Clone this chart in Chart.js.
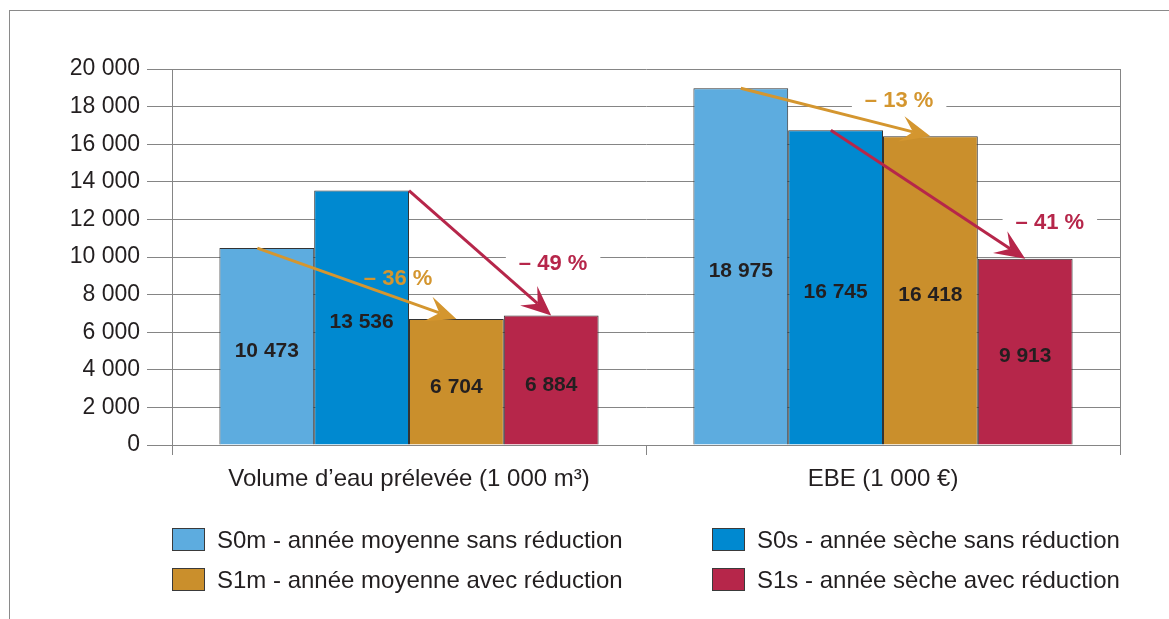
<!DOCTYPE html>
<html>
<head>
<meta charset="utf-8">
<script src="https://cdn.jsdelivr.net/npm/chart.js@4"></script>
<style>
  html, body { margin: 0; padding: 0; background: #fff; }
  #wrap { position: relative; width: 1169px; height: 619px; overflow: hidden; }
  #frame { position: absolute; left: 9px; top: 10px; right: -2px; bottom: -2px;
           border-top: 1px solid #8a8a8a; border-left: 1px solid #8a8a8a; }
  canvas { position: absolute; left: 0; top: 0; }
  #legend { position: absolute; left: 172px; top: 528px; display: grid;
            grid-template-columns: 540px 420px; row-gap: 17px;
            font-family: "Liberation Sans", Arial, sans-serif; font-size: 24px; color: #231F20; }
  .item { display: flex; align-items: center; height: 23px; }
  .box { width: 31px; height: 21px; border: 1px solid #3a3a3a; margin-right: 12px; }
</style>
</head>
<body>
<div id="wrap">
  <div id="frame"></div>
  <canvas id="chart" width="1169" height="619"></canvas>
  <div id="legend"></div>
</div>
<script>
// Categories and values
const categories = ['Volume d\u2019eau prélevée (1 000 m\u00b3)', 'EBE (1 000 \u20ac)'];
const seriesNames = [
    'S0m - année moyenne sans réduction',
    'S0s - année sèche sans réduction',
    'S1m - année moyenne avec réduction',
    'S1s - année sèche avec réduction'
];
const s0m = [10473, 18975];
const s0s = [13536, 16745];
const s1m = [6704, 16418];
const s1s = [6884, 9913];
const changeLabels = ['\u2013 36 %', '\u2013 49 %', '\u2013 13 %', '\u2013 41 %'];

const colors = ['#5DACDF', '#0089D0', '#CA8F2C', '#B6264A'];
const orange = '#D4962F';
const red = '#B6264A';
const gridColor = '#858585';
const textColor = '#231F20';
const fontFamily = '"Liberation Sans", Arial, sans-serif';

// arrows: from one bar top to another within a category
const arrows = [
    { cat: 0, from: 0, to: 2, shift: -0.1, color: orange },
    { cat: 0, from: 1, to: 3, shift: 0.5, color: red },
    { cat: 1, from: 0, to: 2, shift: 0, color: orange },
    { cat: 1, from: 1, to: 3, shift: -0.05, color: red }
];
// where the percentage labels sit (category offset as fraction of category width, y in data units)
const changeSpots = [
    { cat: 0, dx: -0.023, y: 8900, color: orange },
    { cat: 0, dx: 0.304, y: 9700, color: red },
    { cat: 1, dx: 0.034, y: 18350, color: orange },
    { cat: 1, dx: 0.352, y: 11850, color: red }
];

function fmt(v) {
    return String(v).replace(/\B(?=(\d{3})+(?!\d))/g, ' ');
}

function spotXY(chart, s) {
    const x = chart.scales.x;
    const catW = (x.right - x.left) / categories.length;
    return { x: x.getPixelForValue(s.cat) + s.dx * catW, y: chart.scales.y.getPixelForValue(s.y) };
}

const annotations = {
    id: 'annotations',
    beforeDatasetsDraw(chart) {
        const ctx = chart.ctx;
        ctx.save();
        ctx.font = 'bold 22px ' + fontFamily;
        changeSpots.forEach((s, i) => {
            const p = spotXY(chart, s);
            const w = ctx.measureText(changeLabels[i]).width + 26;
            ctx.fillStyle = '#fff';
            ctx.fillRect(p.x - w / 2, p.y - 13, w, 26);
        });
        ctx.restore();
    },
    afterDatasetsDraw(chart) {
        const ctx = chart.ctx;
        ctx.save();
        // values inside bars
        ctx.font = 'bold 21px ' + fontFamily;
        ctx.fillStyle = textColor;
        ctx.textAlign = 'center';
        ctx.textBaseline = 'middle';
        chart.data.datasets.forEach((ds, di) => {
            chart.getDatasetMeta(di).data.forEach((bar, i) => {
                ctx.fillText(fmt(ds.data[i]), bar.x, (bar.y + bar.base) / 2 + 5);
            });
        });
        // arrows
        arrows.forEach(a => {
            const b0 = chart.getDatasetMeta(a.from).data[a.cat];
            const b1 = chart.getDatasetMeta(a.to).data[a.cat];
            const x0 = b0.x + a.shift * b0.width, y0 = b0.y;
            const x1 = b1.x, y1 = b1.y;
            const ang = Math.atan2(y1 - y0, x1 - x0);
            const len = 30, half = 13, notch = 18;
            ctx.strokeStyle = a.color;
            ctx.fillStyle = a.color;
            ctx.lineWidth = 3;
            ctx.beginPath();
            ctx.moveTo(x0, y0);
            ctx.lineTo(x1 - Math.cos(ang) * notch, y1 - Math.sin(ang) * notch);
            ctx.stroke();
            ctx.translate(x1, y1);
            ctx.rotate(ang);
            ctx.beginPath();
            ctx.moveTo(0, 0);
            ctx.lineTo(-len, -half);
            ctx.lineTo(-notch, 0);
            ctx.lineTo(-len, half);
            ctx.closePath();
            ctx.fill();
            ctx.setTransform(1, 0, 0, 1, 0, 0);
        });
        // percentage labels
        ctx.font = 'bold 22px ' + fontFamily;
        changeSpots.forEach((s, i) => {
            const p = spotXY(chart, s);
            ctx.fillStyle = s.color;
            ctx.fillText(changeLabels[i], p.x, p.y + 1);
        });
        ctx.restore();
    }
};

const chart = new Chart(document.getElementById('chart'), {
    type: 'bar',
    data: {
        labels: categories,
        datasets: [s0m, s0s, s1m, s1s].map((d, i) => ({
            label: seriesNames[i],
            data: d,
            backgroundColor: colors[i],
            borderColor: '#333333',
            borderWidth: 1,
            categoryPercentage: 0.8,
            barPercentage: 1.0
        }))
    },
    options: {
        responsive: false,
        animation: false,
        layout: { padding: { left: 0, right: 49, top: 69, bottom: 0 } },
        plugins: { legend: { display: false }, tooltip: { enabled: false } },
        scales: {
            x: {
                afterFit: s => { s.height = 174; },
                ticks: { color: textColor, padding: 10, font: { family: fontFamily, size: 24 } },
                grid: {
                    offset: true,
                    color: c => c.index === 1 ? 'rgba(0,0,0,0)' : gridColor,
                    tickColor: gridColor,
                    tickLength: 10
                },
                border: { display: false }
            },
            y: {
                min: 0,
                max: 20000,
                afterFit: s => { s.width = 172; },
                ticks: {
                    stepSize: 2000,
                    padding: 7,
                    color: textColor,
                    font: { family: fontFamily, size: 23 },
                    callback: v => fmt(v)
                },
                grid: { color: gridColor, tickColor: gridColor, tickLength: 25 },
                border: { display: true, color: gridColor }
            }
        }
    },
    plugins: [annotations]
});

// html legend built from the chart datasets
const legend = document.getElementById('legend');
chart.data.datasets.forEach(ds => {
    const item = document.createElement('div');
    item.className = 'item';
    item.innerHTML = '<span class="box" style="background:' + ds.backgroundColor + '"></span><span>' + ds.label + '</span>';
    legend.appendChild(item);
});
</script>
</body>
</html>
